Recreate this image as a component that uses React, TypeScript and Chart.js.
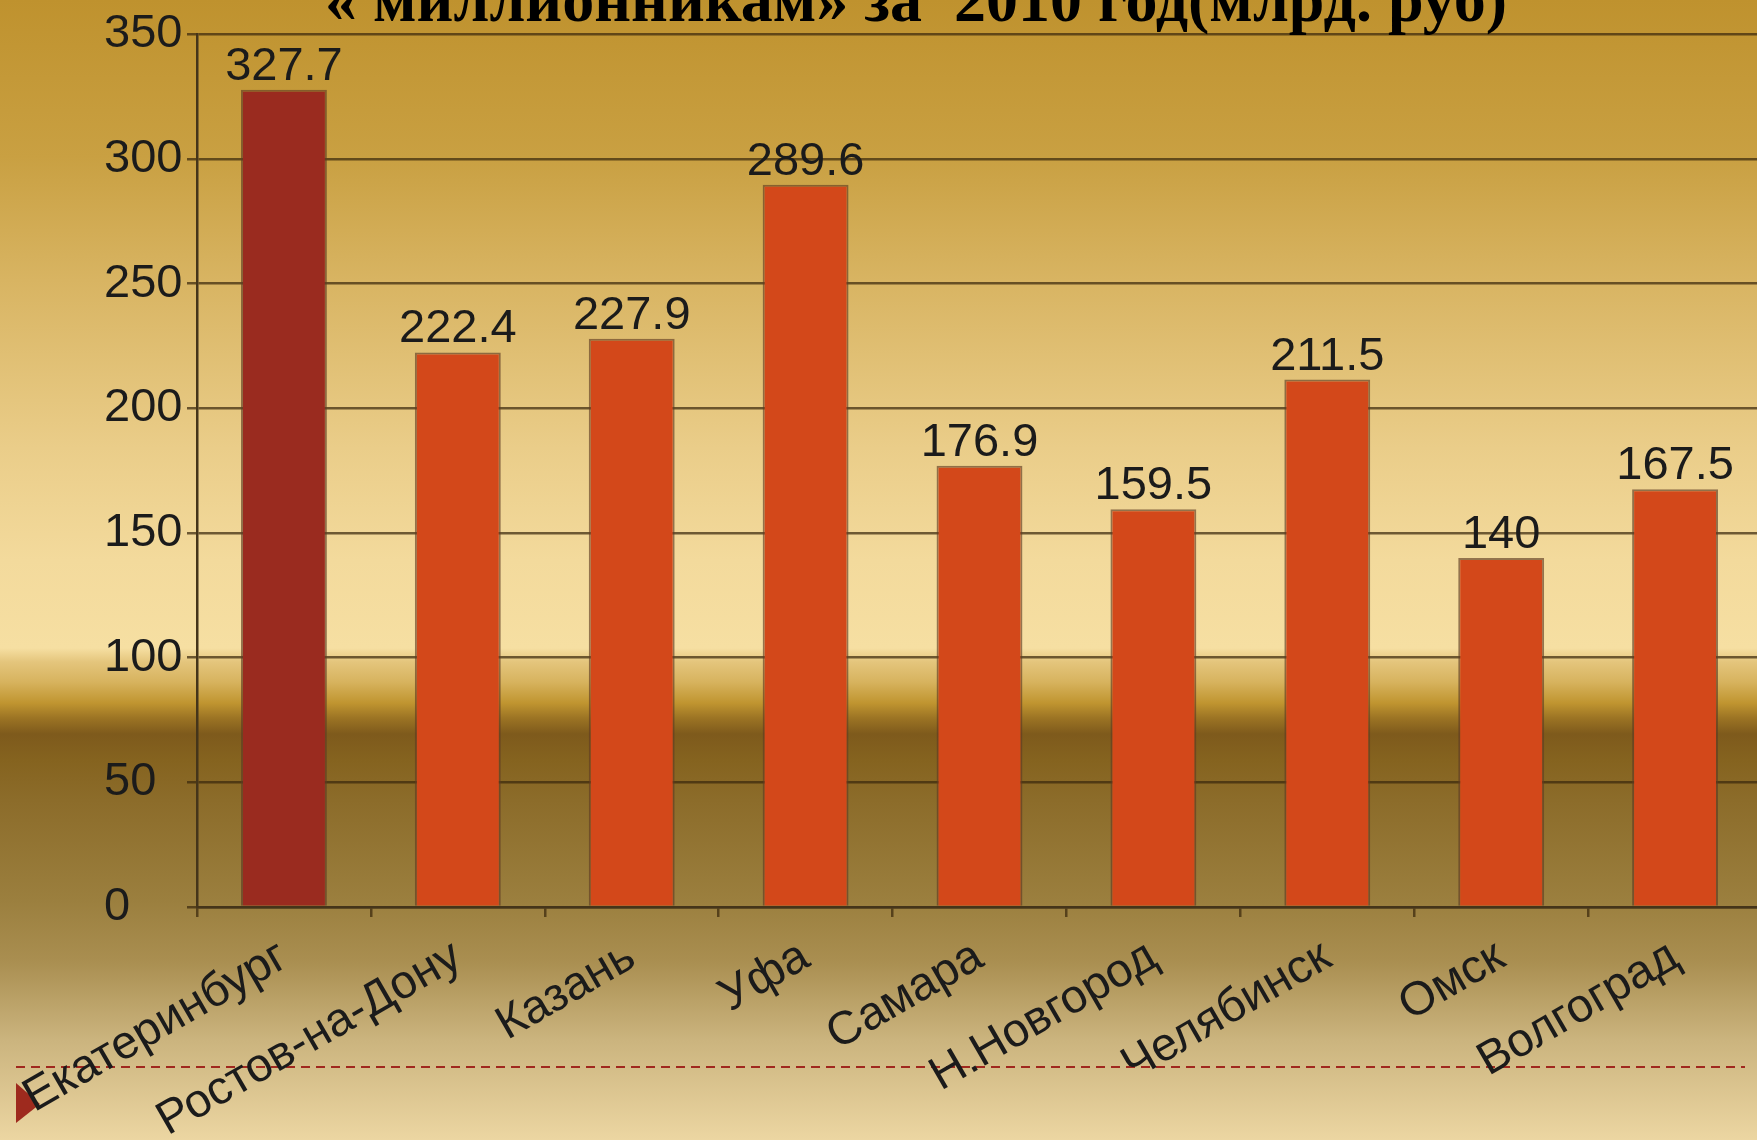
import React, { useEffect, useRef } from "react";
import { Chart, registerables } from "chart.js";

Chart.register(...registerables);

const TITLE = "« миллионникам» за  2010 год(млрд. руб)";
const CITIES = [
  "Екатеринбург",
  "Ростов-на-Дону",
  "Казань",
  "Уфа",
  "Самара",
  "Н.Новгород",
  "Челябинск",
  "Омск",
  "Волгоград",
];
const VALUES = [327.7, 222.4, 227.9, 289.6, 176.9, 159.5, 211.5, 140, 167.5];
const Y_MIN = 0;
const Y_MAX = 350;
const Y_STEP = 50;

const W = 1762;
const H = 1140;

const labelPlugin = {
  id: "valueLabels",
  afterDatasetsDraw(chart: any) {
    const ctx = chart.ctx;
    const meta = chart.getDatasetMeta(0);
    ctx.save();
    ctx.font = '47px "Liberation Sans", Arial, sans-serif';
    ctx.fillStyle = "#1b1b1b";
    ctx.textAlign = "center";
    ctx.textBaseline = "alphabetic";
    meta.data.forEach((el: any, i: number) => {
      ctx.fillText(String(VALUES[i]), el.x, el.y - 10);
    });
    ctx.restore();
  },
};

const decoPlugin = {
  id: "deco",
  beforeDraw(chart: any) {
    const ctx = chart.ctx;
    ctx.save();
    ctx.strokeStyle = "#a0281e";
    ctx.lineWidth = 2;
    ctx.setLineDash([9, 6]);
    ctx.beginPath();
    ctx.moveTo(16, 1067);
    ctx.lineTo(1745, 1067);
    ctx.stroke();
    ctx.setLineDash([]);
    ctx.fillStyle = "#9e2a1e";
    ctx.beginPath();
    ctx.moveTo(16, 1083);
    ctx.lineTo(40, 1104);
    ctx.lineTo(16, 1123);
    ctx.closePath();
    ctx.fill();
    ctx.restore();
  },
};

export default function App() {
  const ref = useRef<HTMLCanvasElement | null>(null);

  useEffect(() => {
    if (!ref.current) return;
    const gridColor = "rgba(58,40,12,0.72)";
    const chart = new Chart(ref.current, {
      type: "bar",
      data: {
        labels: CITIES,
        datasets: [
          {
            data: VALUES,
            backgroundColor: (c: any) => (c.dataIndex === 0 ? "#9a2b1f" : "#d3481a"),
            borderColor: "rgba(95,60,35,0.65)",
            borderWidth: 2,
            categoryPercentage: 1,
            barPercentage: 0.494,
          },
        ],
      },
      options: {
        responsive: false,
        animation: false,
        devicePixelRatio: 1,
        layout: { padding: { left: 104, top: 31, right: 0, bottom: 0 } },
        plugins: {
          legend: { display: false },
          title: { display: false },
          tooltip: { enabled: false },
        },
        scales: {
          x: {
            offset: true,
            grid: {
              display: true,
              drawOnChartArea: false,
              drawTicks: true,
              tickLength: 10,
              color: gridColor,
              lineWidth: 2.5,
              offset: true,
            },
            border: { display: true, color: "#45351a", width: 2.5 },
            ticks: {
              autoSkip: false,
              maxRotation: 30,
              minRotation: 30,
              padding: 12,
              color: "#1b1b1b",
              font: { family: '"Liberation Sans", Arial, sans-serif', size: 47 },
            },
            afterFit: (s: any) => {
              s.height = H - 907;
            },
          },
          y: {
            min: Y_MIN,
            max: Y_MAX,
            grid: {
              color: gridColor,
              lineWidth: 2.5,
              tickLength: 10,
              drawTicks: true,
            },
            border: { display: true, color: "#45351a", width: 2.5 },
            ticks: {
              stepSize: Y_STEP,
              crossAlign: "far",
              padding: 6,
              color: "#1b1b1b",
              font: { family: '"Liberation Sans", Arial, sans-serif', size: 47 },
            },
            afterFit: (s: any) => {
              s.width = 93;
            },
          },
        },
      },
      plugins: [decoPlugin, labelPlugin],
    });
    return () => chart.destroy();
  }, []);

  return (
    <div
      style={{
        position: "fixed",
        left: 0,
        top: 0,
        width: 1757,
        height: H,
        overflow: "hidden",
        background:
          "linear-gradient(to bottom, #bf922e 0px, #c9a042 157px, #d8b462 280px, #eacd89 448px, #f3da9c 560px, #f6dfa2 648px, #e4c57c 662px, #d7b35e 682px, #c09530 703px, #9c7424 718px, #7e5a1c 734px, #85631f 760px, #8c6c2a 800px, #9b7f3e 900px, #a98e50 960px, #cbb47e 1040px, #ecd6a2 1140px)",
      }}
    >
      <canvas ref={ref} width={W} height={H} style={{ position: "absolute", left: 0, top: 0, width: W, height: H }} />
      <div
        style={{
          position: "absolute",
          left: 325,
          top: -32,
          font: 'bold 64px "Liberation Serif", "Times New Roman", serif',
          lineHeight: "64px",
          whiteSpace: "pre",
          color: "#000",
        }}
      >
        {TITLE}
      </div>
    </div>
  );
}
